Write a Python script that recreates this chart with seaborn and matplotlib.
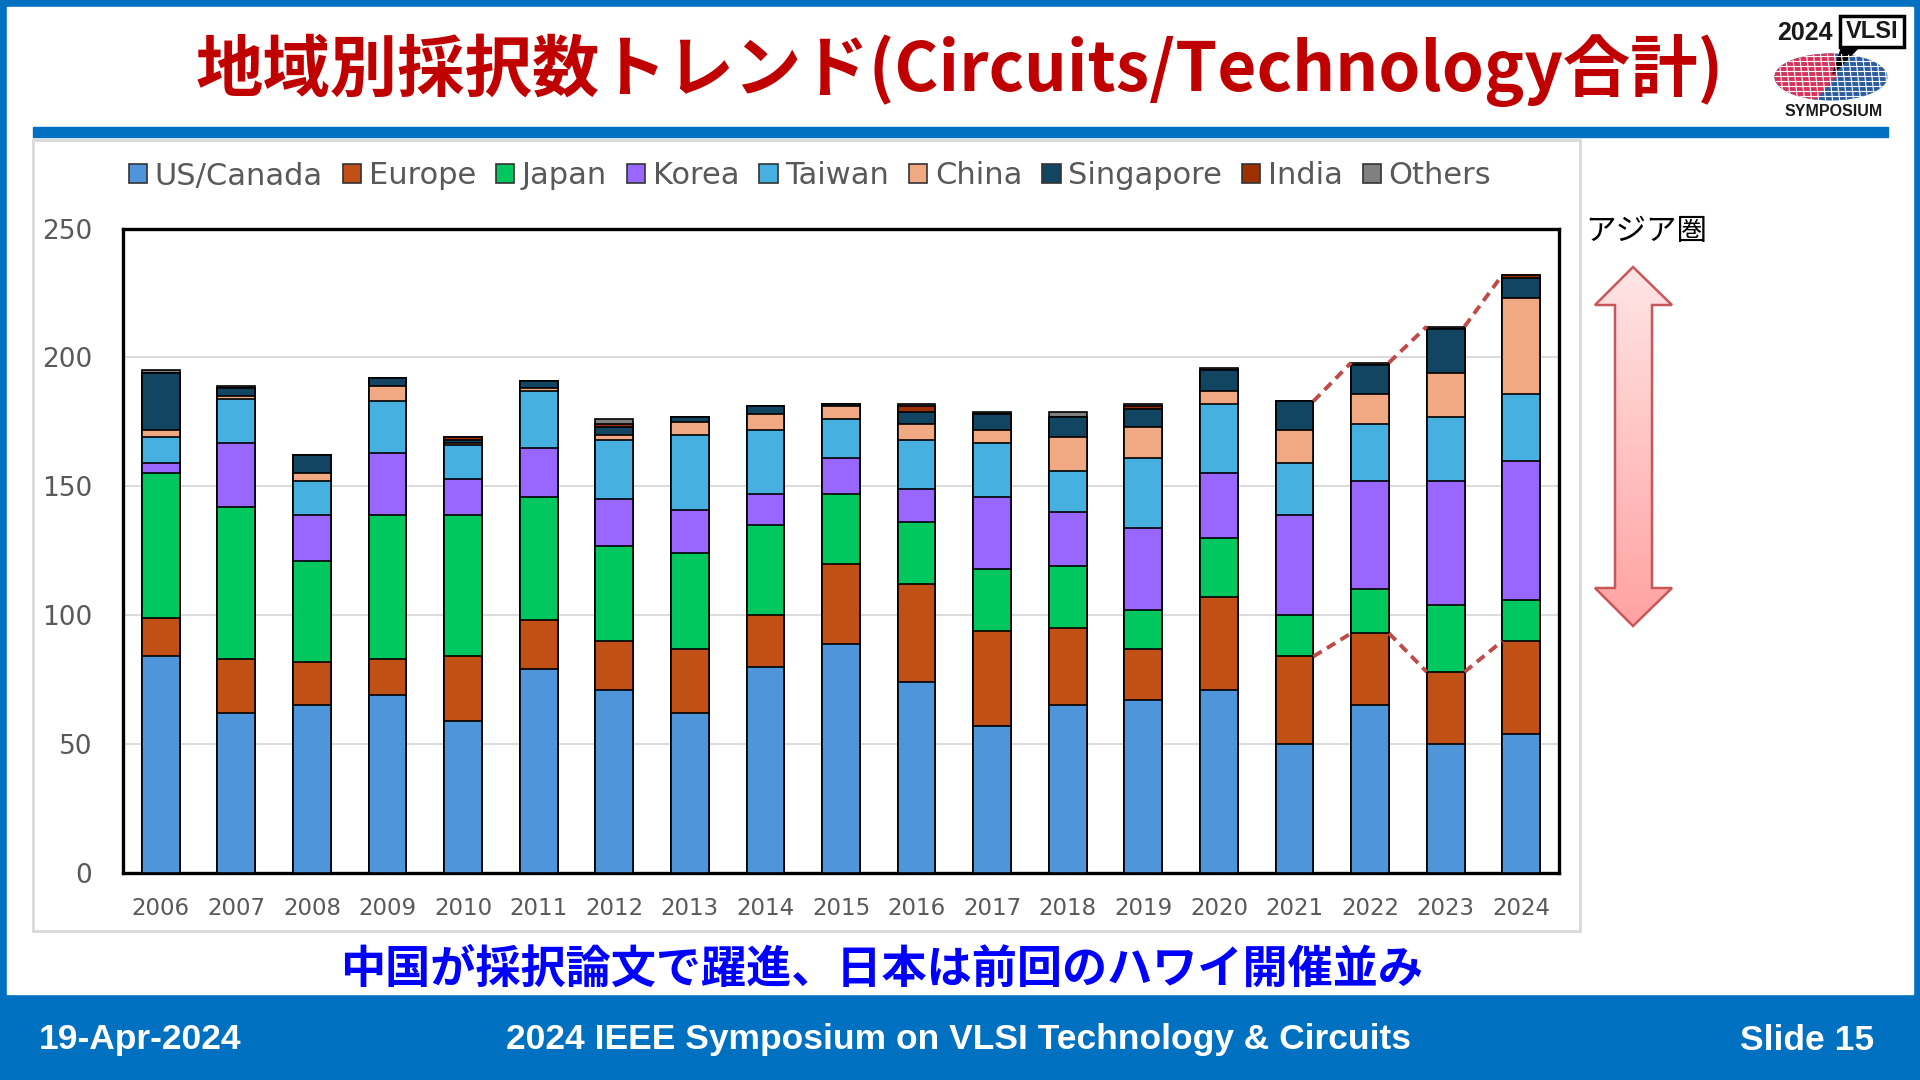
import numpy as np
import pandas as pd
import matplotlib
matplotlib.use("Agg")
import matplotlib.pyplot as plt
import seaborn as sns
from matplotlib.patches import Rectangle, Polygon, Patch, Ellipse

# ---------- Data (accepted papers per region, Circuits + Technology) ----------
years = [str(y) for y in range(2006, 2025)]
us_canada = [84, 62, 65, 69, 59, 79, 71, 62, 80, 89, 74, 57, 65, 67, 71, 50, 65, 50, 54]
europe = [15, 21, 17, 14, 25, 19, 19, 25, 20, 31, 38, 37, 30, 20, 36, 34, 28, 28, 36]
japan = [56, 59, 39, 56, 55, 48, 37, 37, 35, 27, 24, 24, 24, 15, 23, 16, 17, 26, 16]
korea = [4, 25, 18, 24, 14, 19, 18, 17, 12, 14, 13, 28, 21, 32, 25, 39, 42, 48, 54]
taiwan = [10, 17, 13, 20, 13, 22, 23, 29, 25, 15, 19, 21, 16, 27, 27, 20, 22, 25, 26]
china = [3, 1, 3, 6, 1, 1, 2, 5, 6, 5, 6, 5, 13, 12, 5, 13, 12, 17, 37]
singapore = [22, 3, 7, 3, 1, 3, 3, 2, 3, 1, 5, 6, 8, 7, 8, 11, 11, 17, 8]
india = [0, 0, 0, 0, 1, 0, 1, 0, 0, 0, 2, 0, 0, 1, 0, 0, 0, 0, 1]
others = [1, 1, 0, 0, 0, 0, 2, 0, 0, 0, 1, 1, 2, 1, 1, 0, 1, 1, 0]

region_names = ["US/Canada", "Europe", "Japan", "Korea", "Taiwan", "China",
                "Singapore", "India", "Others"]
region_colors = ["#4F95D9", "#C05016", "#00C85F", "#9966FF", "#46B1E1",
                 "#F1A983", "#124561", "#9C3000", "#808080"]
highlight_years = ["2021", "2022", "2023", "2024"]

title = "地域別採択数トレンド(Circuits/Technology合計)"
subtitle = "中国が採択論文で躍進、日本は前回のハワイ開催並み"
footer_left = "19-Apr-2024"
footer_mid = "2024 IEEE Symposium on VLSI Technology & Circuits"
footer_right = "Slide 15"

df = pd.DataFrame(dict(zip(region_names, [us_canada, europe, japan, korea, taiwan,
                                          china, singapore, india, others])),
                  index=years)
cum = df.cumsum(axis=1)

# ---------- Style ----------
sns.set_style("white")
plt.rcParams["font.family"] = ["DejaVu Sans", "Noto Sans CJK JP"]
JP = ["Noto Sans CJK JP", "DejaVu Sans"]
SLIDE_BLUE = "#0070C0"

fig = plt.figure(figsize=(19.2, 10.8), dpi=100)

# background layer in pixel coordinates
bg = fig.add_axes([0, 0, 1, 1], zorder=0)
bg.set_xlim(0, 1920)
bg.set_ylim(1080, 0)
bg.axis("off")

bg.add_patch(Rectangle((0, 0), 1920, 1080, color=SLIDE_BLUE))
bg.add_patch(Rectangle((7, 7), 1906, 987, color="white"))
bg.add_patch(Rectangle((33, 127), 1855, 10, color=SLIDE_BLUE))
bg.add_patch(Rectangle((33, 140), 1547, 791, facecolor="white", edgecolor="#D9D9D9", lw=2))

bg.text(960, 70, title, ha="center", va="center", fontsize=48.5, fontweight="bold",
        color="#C00000", family=JP)
bg.text(882, 970, subtitle, ha="center", va="center", fontsize=32.5, fontweight="bold",
        color="#0000FF", family=JP)
foot_kw = dict(va="center", fontsize=25.5, fontweight="bold", color="white",
               family=["Liberation Sans", "DejaVu Sans"])
bg.text(39, 1040, footer_left, ha="left", **foot_kw)
bg.text(959, 1040, footer_mid, ha="center", **foot_kw)
bg.text(1874, 1040, footer_right, ha="right", **foot_kw)

# ---------- logo ----------
ell = Ellipse((1831, 77), 113, 47, facecolor="#2B5C9C", edgecolor="none")
bg.add_patch(ell)
red = Polygon([(1770, 50), (1835, 50), (1835, 78), (1812, 104), (1770, 104)],
              facecolor="#D4345C", edgecolor="none")
bg.add_patch(red)
red.set_clip_path(ell)
for gx in np.arange(1778, 1890, 7):
    ln, = bg.plot([gx, gx + 6], [50, 104], color="white", lw=0.8)
    ln.set_clip_path(ell)
for gy in np.arange(56, 104, 5):
    ln, = bg.plot([1770, 1895], [gy, gy], color="white", lw=0.8)
    ln.set_clip_path(ell)
bg.add_patch(Polygon([(1842, 46), (1860, 46), (1833, 74)], color="black"))
bg.add_patch(Rectangle((1840, 16), 64, 31, facecolor="white", edgecolor="black", lw=2.5))
logo_kw = dict(ha="center", va="center", fontweight="bold", color="#1A1A1A",
               family=["Liberation Sans", "DejaVu Sans"])
bg.text(1872, 32, "VLSI", fontsize=17, **logo_kw)
bg.text(1805, 33, "2024", fontsize=18, **logo_kw)
bg.text(1834, 112, "SYMPOSIUM", fontsize=11.5, **logo_kw)

# ---------- Asia bracket arrow ----------
arrow_pts = [(1633, 267), (1672, 305), (1652, 305), (1652, 588), (1672, 588),
             (1633, 626), (1595, 588), (1615, 588), (1615, 305), (1595, 305)]
arrow = Polygon(arrow_pts, closed=True, facecolor="none", edgecolor="#C9575A", lw=1.8, zorder=3)
grad = np.linspace(0, 1, 256).reshape(-1, 1)
cmap = matplotlib.colors.LinearSegmentedColormap.from_list("pk", ["#FFE6E6", "#FFA1A1"])
img = bg.imshow(grad, cmap=cmap, extent=(1590, 1676, 630, 262), aspect="auto", zorder=2)
bg.add_patch(arrow)
img.set_clip_path(arrow)
bg.set_xlim(0, 1920)
bg.set_ylim(1080, 0)
bg.text(1646, 231, "アジア圏", ha="center", va="center", fontsize=22, color="black", family=JP)

# ---------- stacked bars ----------
ax = fig.add_axes([123 / 1920, 1 - 873 / 1080, (1559 - 123) / 1920, (873 - 228.6) / 1080],
                  zorder=2)
for name, col in reversed(list(zip(region_names, region_colors))):
    sns.barplot(x=years, y=cum[name].values, order=years, color=col, saturation=1,
                width=0.5, edgecolor="black", linewidth=1.2, ax=ax, zorder=3)

# dashed guide lines for the Asia share, recent years
pos = [years.index(y) for y in highlight_years]
lower = cum["Europe"].values
upper = cum["Others"].values
for a, b in zip(pos[:-1], pos[1:]):
    for series in (lower, upper):
        ax.plot([a + 0.25, b - 0.25], [series[a], series[b]], color="#BE4B48",
                lw=2.8, ls=(0, (2.5, 1.6)), zorder=4)

ax.set_xlim(-0.5, len(years) - 0.5)
ax.set_ylim(0, 250)
ax.set_yticks([0, 50, 100, 150, 200, 250])
ax.yaxis.grid(True, color="#D9D9D9", lw=1.3)
ax.set_axisbelow(True)
ax.set_xlabel("")
ax.set_ylabel("")
ax.tick_params(axis="y", length=0, labelsize=19, labelcolor="#595959", pad=22)
ax.tick_params(axis="x", length=0, labelsize=16.5, labelcolor="#595959", pad=17)
for sp in ax.spines.values():
    sp.set_visible(True)
    sp.set_color("black")
    sp.set_linewidth(2.4)

handles = [Patch(facecolor=c, edgecolor="#333333", lw=1.2) for c in region_colors]
fig.legend(handles, region_names, loc="center", bbox_to_anchor=(810 / 1920, 1 - 176 / 1080),
           ncol=len(region_names), frameon=False, fontsize=22, labelcolor="#595959",
           handlelength=0.6, handleheight=0.6, handletextpad=0.25, columnspacing=0.65)

fig.savefig("out.png", dpi=100)
plt.close(fig)
